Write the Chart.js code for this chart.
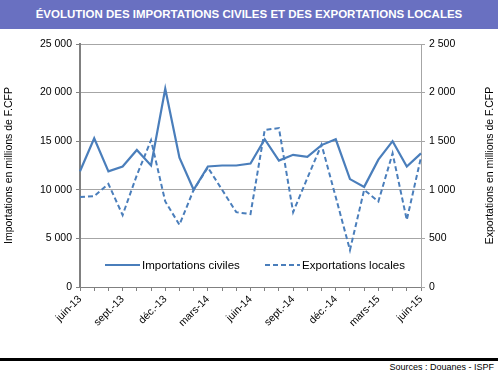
<!DOCTYPE html>
<html lang="fr">
<head>
<meta charset="utf-8">
<script src="https://cdn.jsdelivr.net/npm/chart.js@4.4.1/dist/chart.umd.min.js"></script>
<style>
  html, body { margin:0; padding:0; background:#fff; }
  body { width:498px; height:376px; position:relative; overflow:hidden; font-family:"Liberation Sans", Arial, sans-serif; }
  #title { position:absolute; left:0; top:0; width:498px; height:29px; background:#6970c1; color:#fff;
           font-weight:bold; font-size:11.5px; line-height:29px; text-align:center; }
  #wrap { position:absolute; left:0; top:30px; width:498px; height:325px; }
  #rule { position:absolute; left:0; top:358px; width:498px; height:3px; background:#000; }
  #src { position:absolute; right:4px; top:362px; font-size:9px; color:#000; }
</style>
</head>
<body>
<div id="title">ÉVOLUTION DES IMPORTATIONS CIVILES ET DES EXPORTATIONS LOCALES</div>
<div id="wrap"><canvas id="chart"></canvas></div>
<div id="rule"></div>
<div id="src">Sources : Douanes - ISPF</div>
<script>
const MONTHS = [
  "juin-13","juil.-13","août-13","sept.-13","oct.-13","nov.-13","déc.-13",
  "janv.-14","févr.-14","mars-14","avr.-14","mai-14","juin-14","juil.-14","août-14","sept.-14","oct.-14","nov.-14","déc.-14",
  "janv.-15","févr.-15","mars-15","avr.-15","mai-15","juin-15"
];
// millions de F.CFP
const IMPORTS = [11900, 15300, 11900, 12400, 14100, 12500, 20400, 13300, 10000, 12400, 12500, 12500, 12700,
  15200, 13000, 13600, 13400, 14600, 15200, 11100, 10300, 13100, 15000, 12400, 13750];
const EXPORTS = [925, 935, 1060, 740, 1150, 1510, 880, 640, 1000, 1230, 1000, 770, 750,
  1615, 1635, 770, 1120, 1465, 925, 380, 1000, 880, 1375, 690, 1335];
const RIGHT_TITLE = "Exportations en millions de F.CFP";

const BLUE = "#4a7ebb";
const FONT = "'Liberation Sans', Arial, sans-serif";
const fmt = v => String(v).replace(/\B(?=(\d{3})+(?!\d))/g, " ");

// legend drawn inside the plot area, like the original
const insideLegend = {
  id: "insideLegend",
  afterDraw(chart){
    const { ctx, chartArea } = chart;
    const y = chartArea.bottom - 22;
    const items = [
      { x: chartArea.left + 25, ds: chart.data.datasets[0] },
      { x: chartArea.left + 185, ds: chart.data.datasets[1] }
    ];
    ctx.save();
    ctx.font = "11.5px " + FONT;
    ctx.textBaseline = "middle";
    items.forEach(it => {
      ctx.strokeStyle = it.ds.borderColor;
      ctx.lineWidth = 2;
      ctx.setLineDash(it.ds.borderDash || []);
      ctx.beginPath();
      ctx.moveTo(it.x, y);
      ctx.lineTo(it.x + 35, y);
      ctx.stroke();
      ctx.setLineDash([]);
      ctx.fillStyle = "#000";
      ctx.fillText(it.ds.label, it.x + 37, y + 1);
    });

    // right axis title reads bottom-to-top in the original
    const s = chart.scales.y2;
    ctx.translate(s.right - 8, (chartArea.top + chartArea.bottom) / 2);
    ctx.rotate(-Math.PI / 2);
    ctx.font = "10.5px " + FONT;
    ctx.textAlign = "center";
    ctx.fillText(RIGHT_TITLE, 0, 0);
    ctx.restore();
  }
};

new Chart(document.getElementById("chart"), {
  type: "line",
  data: {
    labels: MONTHS,
    datasets: [
      { label:"Importations civiles", data: IMPORTS, yAxisID:"y", borderColor: BLUE, borderWidth:2.2, pointRadius:0, tension:0 },
      { label:"Exportations locales", data: EXPORTS, yAxisID:"y2", borderColor: BLUE, borderWidth:2, borderDash:[5,3], pointRadius:0, tension:0 }
    ]
  },
  plugins: [insideLegend],
  options: {
    responsive:true,
    maintainAspectRatio:false,
    animation:false,
    layout:{ padding:{ top:14, left:3, right:0, bottom:0 } },
    plugins:{ legend:{ display:false }, tooltip:{ enabled:false } },
    scales:{
      x:{
        grid:{ drawOnChartArea:false, drawTicks:true, tickLength:4, color:"#808080" },
        border:{ color:"#808080", width:1 },
        ticks:{
          autoSkip:false, maxRotation:45, minRotation:45, padding:2,
          color:"#000", font:{ family:FONT, size:10.5 },
          callback:(v, i) => i % 3 === 0 ? MONTHS[i] : ""
        },
        afterFit:(s) => { s.height = 68; }
      },
      y:{
        position:"left", min:0, max:25000,
        ticks:{ stepSize:5000, color:"#000", font:{ family:FONT, size:10.5 }, padding:4, callback:(v)=> fmt(v) },
        grid:{ color:"#a6a6a6", lineWidth:1, tickLength:4, tickColor:"#808080" },
        border:{ color:"#808080", width:2 },
        title:{ display:true, text:"Importations en millions de F.CFP", color:"#000", font:{ family:FONT, size:10.5 }, padding:{ top:0, bottom:2 } },
        afterFit:(s) => { s.width = 77; }
      },
      y2:{
        position:"right", min:0, max:2500,
        ticks:{ stepSize:500, color:"#000", font:{ family:FONT, size:10.5 }, padding:4, callback:(v)=> fmt(v) },
        grid:{ drawOnChartArea:false, tickLength:4, tickColor:"#a6a6a6" },
        border:{ color:"#a6a6a6", width:1 },
        afterFit:(s) => { s.width = 77; }
      }
    }
  }
});
</script>
</body>
</html>
